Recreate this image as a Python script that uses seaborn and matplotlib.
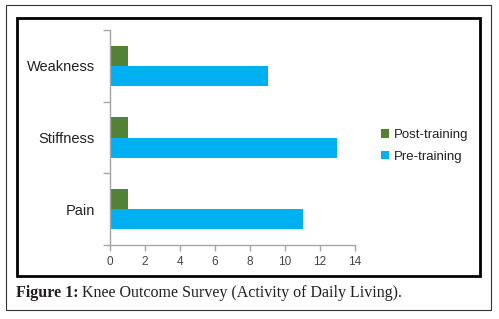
import matplotlib
matplotlib.use('Agg')
from matplotlib import pyplot as plt
from matplotlib import patches
from matplotlib.ticker import FixedLocator
import pandas as pd
import seaborn as sns

sns.set_style('white')
plt.rcParams['font.family'] = ['Liberation Sans', 'DejaVu Sans']

categories = ['Weakness', 'Stiffness', 'Pain']
post_training = [1, 1, 1]
pre_training = [9, 13, 11]
series = ['Post-training', 'Pre-training']
xticks = [0, 2, 4, 6, 8, 10, 12, 14]

df = pd.DataFrame({
    'Symptom': categories * 2,
    'Score': post_training + pre_training,
    'Group': [series[0]] * 3 + [series[1]] * 3,
})

fig = plt.figure(figsize=(4.99, 3.19), dpi=100)
ax = fig.add_axes([110 / 499, 1 - 245 / 319, 245 / 499, 215 / 319])

sns.barplot(data=df, y='Symptom', x='Score', hue='Group', order=categories,
            hue_order=series, palette=['#538135', '#00B0F0'], orient='h',
            width=0.56, saturation=1, ax=ax, linewidth=0)

ax.set_xlim(0, 14)
ax.set_ylim(2.5, -0.5)
ax.set_xticks(xticks)
ax.set_xticklabels([str(t) for t in xticks])
ax.set_xlabel('')
ax.set_ylabel('')

for side in ['top', 'right']:
    ax.spines[side].set_visible(False)
for side in ['left', 'bottom']:
    ax.spines[side].set_color('#a6a6a6')
    ax.spines[side].set_linewidth(1)

ax.yaxis.set_minor_locator(FixedLocator([-0.5, 0.5, 1.5, 2.5]))
ax.tick_params(axis='y', which='major', length=0, pad=11, labelsize=10.5, labelcolor='#222222')
ax.tick_params(axis='y', which='minor', left=True, length=5, color='#a6a6a6', width=1)
ax.tick_params(axis='x', which='major', bottom=True, length=4, pad=4, color='#a6a6a6',
               width=1, labelsize=8.5, labelcolor='#444444')

handles, labels = ax.get_legend_handles_labels()
ax.legend(handles, labels, loc='center left', bbox_to_anchor=(369 / 499, 1 - 146 / 319),
          bbox_transform=fig.transFigure, frameon=False, fontsize=9.5,
          handlelength=0.6, handleheight=0.6, handletextpad=0.4, labelspacing=0.75,
          labelcolor='#222222')

# frames around the chart
fig.add_artist(patches.Rectangle((6 / 499, 1 - 310 / 319), 485 / 499, 305 / 319,
                                 transform=fig.transFigure, fill=False,
                                 edgecolor='#333333', linewidth=0.8))
fig.add_artist(patches.Rectangle((17 / 499, 1 - 276 / 319), 463 / 499, 258 / 319,
                                 transform=fig.transFigure, fill=False,
                                 edgecolor='black', linewidth=2))

cap1 = fig.text(16 / 499, 1 - 293 / 319, 'Figure 1:', family='Liberation Serif',
                weight='bold', fontsize=11.5, color='#231f20', va='center', ha='left')
fig.canvas.draw()
bb = cap1.get_window_extent(fig.canvas.get_renderer())
fig.text(bb.x1 / fig.bbox.width + 4 / 499, 1 - 293 / 319,
         'Knee Outcome Survey (Activity of Daily Living).',
         family='Liberation Serif', fontsize=11.5, color='#231f20', va='center', ha='left')

fig.savefig('out.png', dpi=100)
